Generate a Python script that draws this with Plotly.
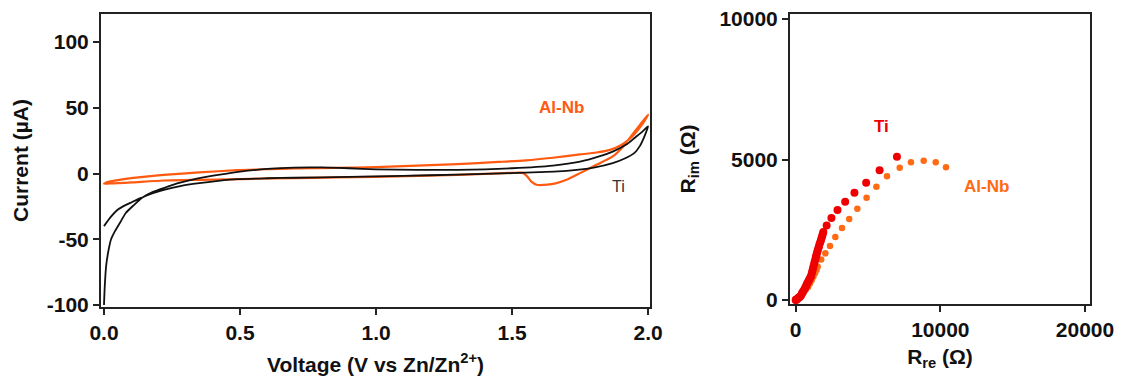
import plotly.graph_objects as go

# ---------------- Cyclic voltammetry data ----------------
ti_voltage = [0.0, 0.003, 0.008, 0.017, 0.026, 0.04, 0.06, 0.08, 0.11, 0.14, 0.18, 0.22, 0.28,
              0.35, 0.42, 0.5, 0.6, 0.7, 0.8, 0.9, 1.0, 1.15, 1.3, 1.5, 1.65, 1.75, 1.82, 1.87,
              1.92, 1.95, 1.98, 2.0,
              1.99, 1.97, 1.95, 1.91, 1.87, 1.8, 1.7, 1.6, 1.5, 1.3, 1.1, 0.9, 0.7, 0.6, 0.49,
              0.42, 0.35, 0.28, 0.22, 0.18, 0.136, 0.1, 0.07, 0.05, 0.025, 0.0]
ti_current = [-100, -85, -70, -58, -50, -44, -37, -30, -24, -18.5, -14, -11, -7,
              -3.5, -1, 1.5, 3.5, 4.5, 4.6, 4.0, 3.2, 2.8, 2.8, 4.0, 6.0, 9.0, 13.0, 16.7,
              22.0, 27.0, 32.0, 35.8,
              30.0, 21.0, 15.7, 11.0, 7.9, 4.5, 2.0, 1.0, 0.3, -0.8, -1.8, -2.6, -3.2, -3.6, -4.3,
              -5.6, -7.3, -9.5, -12.4, -15.0, -18.5, -22.0, -25.0, -27.6, -33.0, -40.0]

alnb_voltage = [0.0, 0.02, 0.05, 0.1, 0.16, 0.22, 0.35, 0.49, 0.6, 0.7, 0.85, 1.0, 1.15, 1.3,
                1.45, 1.55, 1.65, 1.75, 1.81, 1.86, 1.9, 1.93, 1.95, 1.98, 2.0,
                1.985, 1.97, 1.946, 1.91, 1.87, 1.81, 1.75, 1.70, 1.66, 1.63, 1.59, 1.57, 1.555,
                1.54, 1.5, 1.4, 1.3, 1.15, 1.0, 0.85, 0.7, 0.55, 0.46, 0.35, 0.22, 0.1, 0.05,
                0.02, 0.0]
alnb_current = [-7.8, -6.2, -5.0, -3.5, -2.2, -1.0, 0.8, 2.6, 3.3, 3.8, 4.3, 4.9, 6.0, 7.2,
                8.8, 10.0, 12.0, 14.5, 16.0, 18.0, 21.5, 26.0, 30.0, 38.0, 44.7,
                41.0, 37.0, 30.7, 21.0, 13.0, 6.6, 0.3, -4.8, -7.5, -8.5, -8.5, -6.0, -2.0,
                0.5, 0.5, -0.3, -1.0, -1.8, -2.5, -3.0, -3.5, -4.0, -4.5, -4.8, -5.3, -6.8, -7.3,
                -7.6, -7.8]

# ---------------- Impedance (Nyquist) data ----------------
ti_zre = [0, 20, 60, 110, 170, 240, 300, 380, 430, 500, 575, 640, 690, 750, 800, 860, 920, 980,
          1040, 1090, 1130, 1180, 1220, 1270, 1310, 1360, 1400, 1440, 1480, 1520, 1565, 1610,
          1650, 1700, 1750, 1790, 1830, 1870, 1910, 2140, 2470, 2890, 3420, 4060, 4870, 5800, 7000]
ti_zim = [0, 5, 20, 40, 70, 95, 118, 170, 240, 290, 356, 410, 470, 530, 593, 650, 710, 770,
          830, 910, 1000, 1090, 1185, 1270, 1360, 1450, 1540, 1610, 1690, 1760, 1840, 1910,
          1990, 2060, 2135, 2210, 2280, 2350, 2420, 2650, 2920, 3200, 3500, 3820, 4175, 4615, 5100]

alnb_zre = [0, 80, 180, 330, 525, 700, 870, 990, 1105, 1220, 1335, 1440, 1520, 1760, 2050,
            2370, 2740, 3200, 3700, 4260, 4900, 5580, 6310, 7190, 7970, 8850, 9680, 10390]
alnb_zim = [0, 30, 80, 150, 238, 380, 473, 600, 710, 830, 950, 1070, 1185, 1440, 1660,
            1925, 2240, 2560, 2885, 3250, 3635, 4030, 4400, 4710, 4900, 4960, 4900, 4720]

cv_xticks = [0.0, 0.5, 1.0, 1.5, 2.0]
cv_xticklabels = ["0.0", "0.5", "1.0", "1.5", "2.0"]
cv_yticks = [-100, -50, 0, 50, 100]
cv_yticklabels = ["-100", "-50", "0", "50", "100"]
eis_xticks = [0, 10000, 20000]
eis_xticklabels = ["0", "10000", "20000"]
eis_yticks = [0, 5000, 10000]
eis_yticklabels = ["0", "5000", "10000"]

ORANGE_LINE = "#FF5A0F"
ORANGE_DOT = "#FF6A14"
RED = "#EE0000"
BLACK = "#111111"
FONT = "Liberation Sans, Arial, sans-serif"

fig = go.Figure()

fig.add_trace(go.Scatter(x=alnb_voltage, y=alnb_current, mode="lines",
                         line=dict(color=ORANGE_LINE, width=2.2, shape="spline", smoothing=0.6),
                         xaxis="x", yaxis="y", showlegend=False))
fig.add_trace(go.Scatter(x=ti_voltage, y=ti_current, mode="lines",
                         line=dict(color=BLACK, width=1.8, shape="spline", smoothing=0.6),
                         xaxis="x", yaxis="y", showlegend=False))

fig.add_trace(go.Scatter(x=alnb_zre, y=alnb_zim, mode="markers",
                         marker=dict(color=ORANGE_DOT, size=6.5),
                         xaxis="x2", yaxis="y2", showlegend=False))
fig.add_trace(go.Scatter(x=ti_zre, y=ti_zim, mode="markers",
                         marker=dict(color=RED, size=8),
                         xaxis="x2", yaxis="y2", showlegend=False))

W, H = 1124, 381
OFF = 8  # page body margin offset


def dx(px0, px1):
    return [(px0 - OFF) / W, (px1 - OFF) / W]


def dy(top, bottom):
    return [1 - (bottom - OFF) / H, 1 - (top - OFF) / H]


axis_common = dict(showgrid=False, zeroline=False, showline=True, mirror=True,
                   linecolor="#222222", linewidth=2, ticks="outside", ticklen=6,
                   tickwidth=2, tickcolor="#222222", automargin=False,
                   ticklabeloverflow="allow",
                   tickfont=dict(family=FONT, size=21, color="#111111", weight="bold"))
title_font = dict(family=FONT, size=21, color="#111111", weight="bold")

fig.update_layout(
    width=W, height=H,
    margin=dict(l=0, r=0, t=0, b=0),
    paper_bgcolor="white", plot_bgcolor="white",
    font=dict(family=FONT),
    xaxis=dict(domain=dx(101, 650), range=[-0.011, 2.007], tickvals=cv_xticks,
               ticktext=cv_xticklabels, anchor="y",
               title=dict(text="Voltage (V vs Zn/Zn<sup>2+</sup>)", font=title_font,
                          standoff=14),
               **axis_common),
    yaxis=dict(domain=dy(14, 307), range=[-101.5, 121.3], tickvals=cv_yticks,
               ticktext=cv_yticklabels, anchor="x",
               title=dict(text="Current (µA)", font=title_font, standoff=12),
               **axis_common),
    xaxis2=dict(domain=dx(790, 1090), range=[-394, 20346], tickvals=eis_xticks,
                ticktext=eis_xticklabels, anchor="y2",
                title=dict(text="R<sub>re</sub> (Ω)", font=title_font, standoff=9),
                **axis_common),
    yaxis2=dict(domain=dy(14, 304), range=[-142, 10178], tickvals=eis_yticks,
                ticktext=eis_yticklabels, anchor="x2",
                title=dict(text="R<sub>im</sub> (Ω)", font=title_font, standoff=18),
                **axis_common),
    annotations=[
        dict(x=1.68, y=50, xref="x", yref="y", text="<b>Al-Nb</b>", showarrow=False,
             font=dict(family=FONT, size=17, color=ORANGE_LINE)),
        dict(x=1.89, y=-10, xref="x", yref="y", text="Ti", showarrow=False,
             font=dict(family=FONT, size=16, color="#333333")),
        dict(x=5940, y=6190, xref="x2", yref="y2", text="<b>Ti</b>", showarrow=False,
             font=dict(family=FONT, size=17, color=RED)),
        dict(x=13160, y=4057, xref="x2", yref="y2", text="<b>Al-Nb</b>", showarrow=False,
             font=dict(family=FONT, size=17, color=ORANGE_DOT)),
    ],
)

fig.write_html("out.html")
